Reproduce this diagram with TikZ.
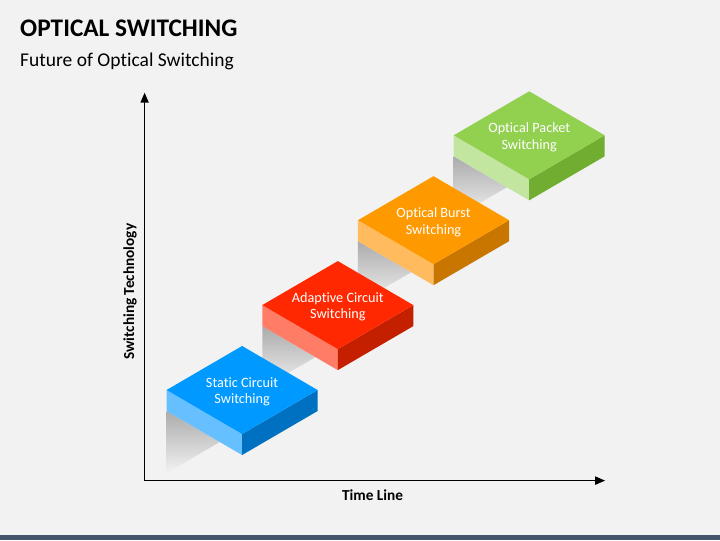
\documentclass[tikz,border=0pt]{standalone}
\usepackage{fontspec}
\setmainfont{Carlito}[Ligatures=NoCommon]
\usepackage{tikz}
\usetikzlibrary{arrows.meta,calc}
\usepackage{xcolor}

\definecolor{bg}{HTML}{F2F2F2}
\definecolor{barcol}{HTML}{44546A}
\definecolor{shadowgray}{HTML}{ABABAB}
\definecolor{blueTop}{HTML}{0099FF}
\definecolor{blueLeft}{HTML}{66C0FF}
\definecolor{blueRight}{HTML}{0070C0}
\definecolor{redTop}{HTML}{FF2800}
\definecolor{redLeft}{HTML}{FF7C66}
\definecolor{redRight}{HTML}{C42000}
\definecolor{orangeTop}{HTML}{FF9900}
\definecolor{orangeLeft}{HTML}{FFBB5E}
\definecolor{orangeRight}{HTML}{C87600}
\definecolor{greenTop}{HTML}{92D050}
\definecolor{greenLeft}{HTML}{C2E5A0}
\definecolor{greenRight}{HTML}{70AD30}

\tikzset{
    blocktext/.style={align=center, text=white, font=\fontsize{13.5}{15.8}\selectfont},
    axislabel/.style={font=\fontsize{14.5}{17}\selectfont\bfseries},
    axisline/.style={line width=1.3pt, -{Triangle[length=3.3mm,width=2.7mm]}}
}

\begin{document}
\begin{tikzpicture}[scale=1.0]
    \useasboundingbox (0,0) rectangle (24,18);
    \fill[bg] (0,0) rectangle (24,18);
    \fill[barcol] (0,0) rectangle (24,0.17);

    \node[anchor=base west, font=\fontsize{24}{28}\selectfont\bfseries] (title) at (0.55,16.78) {OPTICAL SWITCHING};
    \node[anchor=base west, font=\fontsize{18.5}{22}\selectfont] (subtitle) at (0.55,15.78) {Future of Optical Switching};

    % axes
    \coordinate (origin) at (4.82,1.98);
    \coordinate (ytip) at (4.82,14.91);
    \coordinate (xtip) at (20.17,1.98);
    \draw[axisline] (origin) -- (ytip);
    \draw[axisline] (origin) -- (xtip);
    \node[axislabel, anchor=base] (xlabel) at (12.42,1.33) {Time Line};
    \node[axislabel, anchor=base, rotate=90] (ylabel) at (4.47,8.28) {Switching Technology};

    % steps, drawn from the top one down
    \foreach \cx/\cy/\ctop/\cleft/\cright/\name/\txt in {
        17.64/13.49/greenTop/greenLeft/greenRight/packet/{Optical Packet\\Switching},
        14.45/10.66/orangeTop/orangeLeft/orangeRight/burst/{Optical Burst\\Switching},
        11.26/7.83/redTop/redLeft/redRight/adaptive/{Adaptive Circuit\\Switching},
        8.07/5.0/blueTop/blueLeft/blueRight/static/{Static Circuit\\Switching}} {
        \begin{scope}[shift={(\cx,\cy)}]
            \shade[top color=shadowgray, bottom color=bg] (-2.517,-0.7) -- ++(0,-2.067) -- ++(1.773,1.033) -- cycle;
            \fill[\cleft] (-2.517,0) -- (0,-1.467) -- (0,-2.167) -- (-2.517,-0.7) -- cycle;
            \fill[\cright] (0,-1.467) -- (2.517,0) -- (2.517,-0.7) -- (0,-2.167) -- cycle;
            \fill[\ctop] (-2.517,0) -- (0,1.467) -- (2.517,0) -- (0,-1.467) -- cycle;
        \end{scope}
        \node[blocktext] (\name) at (\cx,\cy-0.06) {\txt};
    }
\end{tikzpicture}
\end{document}
